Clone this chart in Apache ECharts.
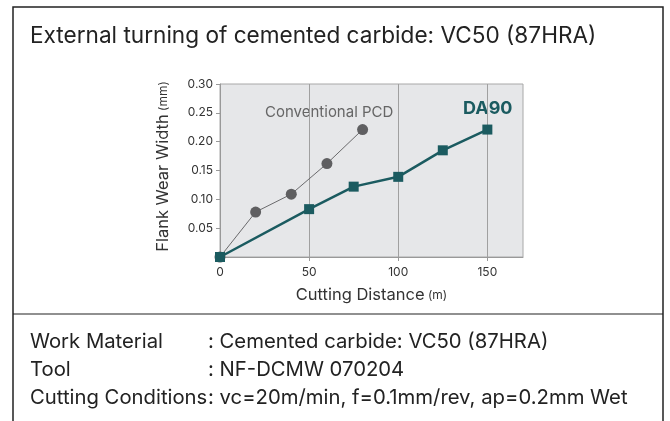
<!DOCTYPE html>
<html>
<head>
<meta charset="utf-8">
<script src="https://cdn.jsdelivr.net/npm/echarts@6/dist/echarts.min.js"></script>
<style>
  html, body { margin: 0; padding: 0; background: #fff; }
  #chart { width: 670px; height: 421px; }
</style>
</head>
<body>
<div id="chart"></div>
<script>
// cutting distance (m) / flank wear width (mm)
var pcdDistance = [0, 20, 40, 60, 80]
var pcdWear = [0, 0.078, 0.109, 0.162, 0.221]
var da90Distance = [0, 50, 75, 100, 125, 150]
var da90Wear = [0, 0.083, 0.122, 0.139, 0.185, 0.221]
var xTicks = [0, 50, 100, 150]
var yTicks = [0.05, 0.10, 0.15, 0.20, 0.25, 0.30]

var font = 'Inter, Liberation Sans, Arial, sans-serif'

function pairs (xs, ys) {
  var out = []
  for (var i = 0; i < xs.length; i++) {
    out.push([xs[i], ys[i]])
  }
  return out
}

// plain text helper for the graphic layer
function label (x, y, text, fontCss, color) {
  return {
    type: 'text',
    x: x,
    y: y,
    style: { text: text, fill: color || '#222', font: fontCss, verticalAlign: 'middle' },
    silent: true
  }
}

var myChart = echarts.init(document.getElementById('chart'))
myChart.setOption({
  animation: false,
  textStyle: { fontFamily: font },
  grid: {
    left: 220,
    right: 147,
    top: 84,
    bottom: 164,
    show: true,
    backgroundColor: '#e6e7e9',
    borderColor: '#a8a8a8',
    borderWidth: 1
  },
  xAxis: {
    type: 'value',
    min: 0,
    max: 170,
    axisLine: { show: true, lineStyle: { color: '#999', width: 1 } },
    axisTick: { show: true, length: 4, customValues: xTicks, lineStyle: { color: '#999' } },
    axisLabel: { customValues: xTicks, color: '#333', fontSize: 12, margin: 9, fontFamily: font },
    splitLine: { show: true, lineStyle: { color: '#a0a0a0', width: 1 } },
    name: '{a|Cutting Distance} {b|(m)}',
    nameLocation: 'middle',
    nameGap: 30,
    nameTextStyle: {
      rich: {
        a: { fontSize: 16.5, color: '#333', fontFamily: font },
        b: { fontSize: 12, color: '#333', fontFamily: font }
      }
    }
  },
  yAxis: {
    type: 'value',
    min: 0,
    max: 0.30,
    axisLine: { show: true, lineStyle: { color: '#999', width: 1 } },
    axisTick: { show: true, length: 4, customValues: yTicks, lineStyle: { color: '#999' } },
    axisLabel: {
      customValues: yTicks,
      color: '#333',
      fontSize: 12,
      margin: 7,
      fontFamily: font,
      formatter: function (v) { return v.toFixed(2) }
    },
    splitLine: { show: false },
    name: '{a|Flank Wear Width} {b|(mm)}',
    nameLocation: 'middle',
    nameGap: 48,
    nameTextStyle: {
      padding: [0, 0, 0, 8],
      rich: {
        a: { fontSize: 16.5, color: '#333', fontFamily: font },
        b: { fontSize: 12, color: '#333', fontFamily: font }
      }
    }
  },
  series: [
    {
      name: 'Conventional PCD',
      type: 'line',
      data: pairs(pcdDistance, pcdWear),
      symbol: 'circle',
      symbolSize: 11,
      itemStyle: { color: '#5f5f61' },
      lineStyle: { color: '#6a6a6c', width: 1 },
      z: 2
    },
    {
      name: 'DA90',
      type: 'line',
      data: pairs(da90Distance, da90Wear),
      symbol: 'rect',
      symbolSize: 10,
      itemStyle: { color: '#1b5b60' },
      lineStyle: { color: '#1b5b60', width: 2.5 },
      z: 3
    }
  ],
  graphic: [
    // outer frame and divider
    {
      type: 'rect',
      shape: { x: 13, y: 7, width: 650, height: 430 },
      style: { fill: 'none', stroke: '#222', lineWidth: 1.5 },
      silent: true
    },
    {
      type: 'line',
      shape: { x1: 13, y1: 314, x2: 663, y2: 314 },
      style: { stroke: '#222', lineWidth: 1.2 },
      silent: true
    },
    label(30, 36, 'External turning of cemented carbide: VC50 (87HRA)', '22.6px ' + font),
    label(265, 112, 'Conventional PCD', '15px ' + font, '#666'),
    label(463, 109, 'DA90', 'bold 18px ' + font, '#1b5b60'),
    label(30, 342, 'Work Material', '20.3px ' + font),
    label(208, 342, ': Cemented carbide: VC50 (87HRA)', '20.3px ' + font),
    label(30, 370, 'Tool', '20.3px ' + font),
    label(208, 370, ': NF-DCMW 070204', '20.3px ' + font),
    label(30, 398, 'Cutting Conditions', '20.3px ' + font),
    label(208, 398, ': vc=20m/min, f=0.1mm/rev, ap=0.2mm Wet', '20.3px ' + font)
  ]
})
</script>
</body>
</html>
